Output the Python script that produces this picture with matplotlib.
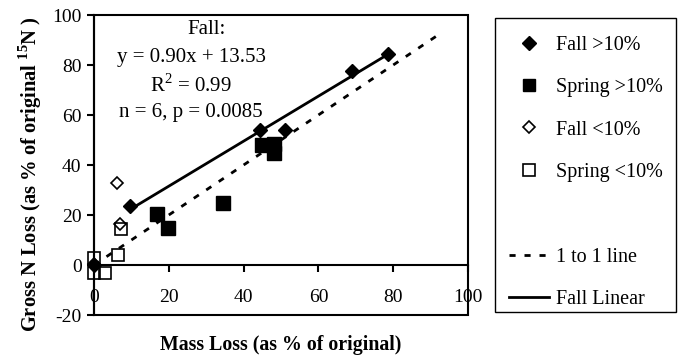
import matplotlib
matplotlib.use("Agg")
import matplotlib.pyplot as plt
from matplotlib.lines import Line2D
from matplotlib.patches import Rectangle
import numpy as np

plt.rcParams['font.family'] = ['Liberation Serif', 'DejaVu Serif']
plt.rcParams['mathtext.fontset'] = 'custom'
plt.rcParams['mathtext.rm'] = 'Liberation Serif'
plt.rcParams['mathtext.bf'] = 'Liberation Serif:bold'
plt.rcParams['axes.unicode_minus'] = False

# Data
fall_hi_x = [0.0, 9.6, 44.5, 51.0, 69.0, 78.5]
fall_hi_y = [0.0, 23.6, 54.0, 54.0, 77.6, 84.4]
spring_hi_x = [16.9, 19.8, 34.6, 45.0, 48.0, 48.0]
spring_hi_y = [20.4, 14.8, 24.8, 48.0, 48.5, 45.0]
fall_lo_x = [6.2, 7.0, 0.0]
fall_lo_y = [32.8, 16.4, 0.5]
spring_lo_x = [7.2, 6.4, 0.0, 0.0, 3.0]
spring_lo_y = [14.4, 4.0, 3.0, -3.0, -3.0]
slope, intercept = 0.90, 13.53
fit_range = [9.6, 78.5]
one_to_one_range = [0.0, 92.0]
xticks = [0, 20, 40, 60, 80, 100]
yticks = [-20, 0, 20, 40, 60, 80, 100]

fig = plt.figure(figsize=(6.78, 3.60), dpi=100)
ax = fig.add_axes([94/678, 1-315/360, 374/678, 300/360])
ax.set_xlim(0, 100)
ax.set_ylim(-20, 100)

fx = np.array(fit_range)
ax.plot(fx, slope*fx + intercept, color='black', lw=2.0, zorder=2, label='Fall Linear')
ox = np.array(one_to_one_range)
ax.plot(ox, ox, color='black', lw=2.0, ls=(0, (2.2, 3.2)), zorder=2, label='1 to 1 line')

ax.plot(fall_hi_x, fall_hi_y, ls='none', marker='D', ms=7.5, mfc='black', mec='black', clip_on=False, zorder=4)
ax.plot(spring_hi_x, spring_hi_y, ls='none', marker='s', ms=9.5, mfc='black', mec='black', clip_on=False, zorder=3)
ax.plot(fall_lo_x, fall_lo_y, ls='none', marker='D', ms=6.5, mfc='white', mec='black', mew=1.2, clip_on=False, zorder=3)
ax.plot(spring_lo_x, spring_lo_y, ls='none', marker='s', ms=8, mfc='none', mec='black', mew=1.2, clip_on=False, zorder=3)

# spines
for s in ['top', 'right']:
    ax.spines[s].set_visible(False)
ax.spines['bottom'].set_position(('data', 0))
ax.spines['bottom'].set_linewidth(1.5)
ax.spines['left'].set_linewidth(1.5)
ax.add_patch(Rectangle((0, 0), 1, 1, transform=ax.transAxes, fill=False,
                       edgecolor='black', lw=1.5, clip_on=False, zorder=1))

ax.set_xticks(xticks)
ax.set_yticks(yticks)
ax.tick_params(axis='x', direction='out', length=5, width=1.5, pad=12, labelsize=14)
ax.tick_params(axis='y', direction='out', length=5, width=1.5, pad=4, labelsize=14)

ax.set_xlabel('Mass Loss (as % of original)', fontsize=14.3, fontweight='bold')
ax.xaxis.set_label_coords(0.5, -0.068)
ax.set_ylabel(r'Gross N Loss (as % of original $^{\mathbf{15}}$N )', fontsize=14.8, fontweight='bold')
ax.yaxis.set_label_coords(-0.133, 0.47)

ax.text(30.2, 94, 'Fall:', ha='center', va='center', fontsize=15)
ax.text(26, 83, 'y = 0.90x + 13.53', ha='center', va='center', fontsize=15)
ax.text(26, 72, r'R$^{2}$ = 0.99', ha='center', va='center', fontsize=15)
ax.text(26, 61, 'n = 6, p = 0.0085', ha='center', va='center', fontsize=15)

handles = [
    Line2D([], [], ls='none', marker='D', ms=7.5, mfc='black', mec='black'),
    Line2D([], [], ls='none', marker='s', ms=8.5, mfc='black', mec='black'),
    Line2D([], [], ls='none', marker='D', ms=6.5, mfc='white', mec='black', mew=1.2),
    Line2D([], [], ls='none', marker='s', ms=8, mfc='none', mec='black', mew=1.2),
    Line2D([], [], ls='none'),
    Line2D([], [], color='black', lw=2.0, ls=(0, (2.2, 3.2))),
    Line2D([], [], color='black', lw=2.0),
]
labels = ['Fall >10%', 'Spring >10%', 'Fall <10%', 'Spring <10%', ' ', '1 to 1 line', 'Fall Linear']
leg = fig.legend(handles, labels, loc='upper left',
                 bbox_to_anchor=(495/678, 1-25/360, 181/678, 0.01), mode='expand',
                 borderaxespad=0, fontsize=14.5, frameon=False,
                 labelspacing=1.16, handlelength=2.0, handletextpad=0.35, borderpad=0.7)
fig.patches.append(Rectangle((495/678, 1-312/360), 181/678, 294/360, transform=fig.transFigure,
                             fill=False, edgecolor='black', lw=1.0, figure=fig))

fig.savefig('out.png', dpi=100)
